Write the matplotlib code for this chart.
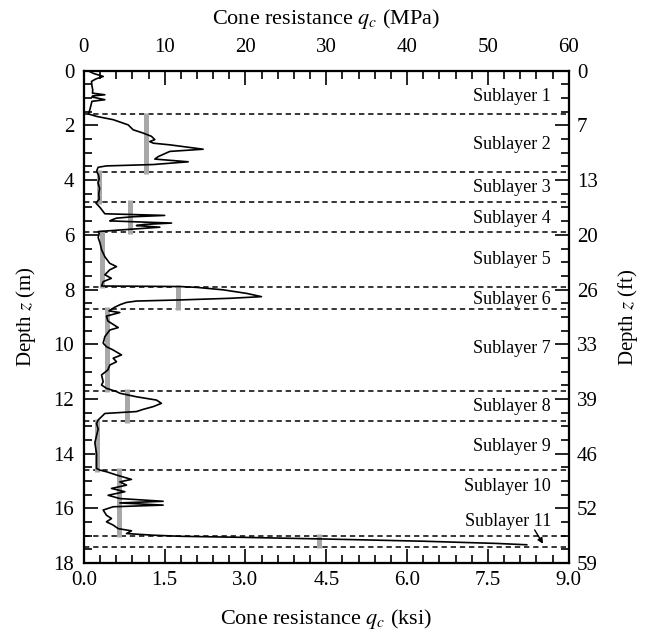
import numpy as np
import matplotlib
matplotlib.use("Agg")
import matplotlib.pyplot as plt

plt.rcParams['font.family'] = ['Liberation Serif', 'DejaVu Serif']
plt.rcParams['mathtext.fontset'] = 'stix'

# CPT profile: depth (m) and cone resistance (MPa)
depth_m = [0.00, 0.10, 0.21, 0.30, 0.39, 0.55, 0.70, 0.82, 0.88, 0.92, 0.96, 1.06, 1.12, 1.18, 1.43, 1.58,
           1.67, 1.79, 1.98, 2.16, 2.28, 2.40, 2.52, 2.59, 2.65, 2.71, 2.87, 2.95, 3.14, 3.23, 3.26, 3.33, 3.43, 3.48, 3.53, 3.68,
           3.80, 3.95, 4.10, 4.30, 4.50, 4.70, 4.84,
           5.00, 5.15, 5.23, 5.29, 5.34, 5.39, 5.45, 5.49, 5.57, 5.62, 5.66, 5.72, 5.79, 5.85, 5.88,
           5.95, 6.10, 6.30, 6.55, 6.80, 7.04, 7.16, 7.28, 7.46, 7.59, 7.71, 7.87,
           7.89, 7.92, 8.01, 8.14, 8.26, 8.32, 8.38, 8.42, 8.47, 8.55, 8.65,
           8.78, 8.84, 8.97, 9.15, 9.39, 9.48, 9.72, 9.96, 10.09, 10.21, 10.39, 10.51, 10.64, 10.76, 10.94, 11.12, 11.37, 11.49, 11.61, 11.73,
           11.79, 11.92, 12.04, 12.16, 12.28, 12.38, 12.46, 12.53, 12.65, 12.77,
           12.90, 13.10, 13.35, 13.60, 14.00, 14.30, 14.54, 14.60,
           14.66, 14.78, 14.94, 15.03, 15.15, 15.27, 15.39, 15.52, 15.64, 15.74, 15.80, 15.88, 15.94, 16.06, 16.25, 16.37, 16.49, 16.61, 16.74, 16.82, 16.92, 16.98,
           17.02, 17.06, 17.12, 17.20, 17.28, 17.33]
qc_mpa = [0.50, 1.20, 2.40, 1.50, 0.95, 1.00, 1.10, 1.07, 2.60, 1.10, 1.00, 2.60, 1.00, 0.95, 0.74, 0.55,
          1.57, 3.63, 5.48, 6.10, 7.34, 8.37, 8.78, 8.16, 8.60, 10.64, 14.76, 10.64, 9.20, 8.78, 10.00, 12.91, 8.58, 2.80, 1.77, 1.57,
          1.80, 1.90, 1.75, 1.95, 1.85, 1.90, 1.50,
          2.00, 2.39, 2.60, 10.00, 6.00, 4.04, 3.50, 3.21, 10.85, 7.50, 6.51, 9.40, 6.00, 3.00, 1.77,
          1.90, 1.77, 2.00, 2.20, 2.60, 3.20, 4.04, 3.20, 2.60, 3.40, 2.40, 2.20,
          11.88, 13.94, 17.24, 20.13, 21.98, 18.06, 11.88, 6.51, 5.28, 4.50, 3.80,
          3.11, 4.45, 2.80, 2.97, 4.25, 3.21, 2.60, 2.39, 2.80, 3.63, 4.66, 3.63, 4.04, 3.21, 2.97, 2.19, 2.39, 2.19, 2.80, 4.04,
          4.45, 6.51, 8.99, 9.60, 8.58, 7.34, 6.51, 2.60, 2.19, 1.77,
          1.57, 1.77, 1.57, 1.36, 1.57, 1.57, 1.57, 1.98,
          2.80, 4.04, 5.89, 4.45, 5.28, 3.42, 5.07, 3.00, 4.45, 9.81, 4.45, 9.81, 3.63, 2.39, 2.80, 3.42, 2.80, 3.63, 4.25, 5.89, 5.28, 8.58,
          12.0, 20.0, 30.0, 42.0, 51.0, 54.8]

# Sublayer boundaries (m) and mean cone resistance per sublayer (MPa)
layer_bounds = [0.0, 1.6, 3.7, 4.8, 5.9, 7.9, 8.7, 11.7, 12.8, 14.6, 17.0, 17.4]
layer_mean_qc = [np.nan, 7.7, 1.9, 5.7, 2.3, 11.7, 2.9, 5.4, 1.6, 4.3, 29.1]
layer_names = ["Sublayer 1", "Sublayer 2", "Sublayer 3", "Sublayer 4", "Sublayer 5", "Sublayer 6",
               "Sublayer 7", "Sublayer 8", "Sublayer 9", "Sublayer 10", "Sublayer 11"]
label_depths = [0.94, 2.71, 4.26, 5.39, 6.91, 8.35, 10.15, 12.28, 13.72, 15.21, 16.49]

mpa_ticks = [0, 10, 20, 30, 40, 50, 60]
ksi_ticks = [0.0, 1.5, 3.0, 4.5, 6.0, 7.5, 9.0]
depth_ticks = [0, 2, 4, 6, 8, 10, 12, 14, 16, 18]
ft_labels = ["0", "7", "13", "20", "26", "33", "39", "46", "52", "59"]

fig = plt.figure(figsize=(6.5, 6.37), dpi=100)
ax = fig.add_axes([0.129, 0.116, 0.746, 0.773])
axb = ax.twiny()   # ksi scale along the bottom
axr = ax.twinx()   # feet scale along the right

# mean resistance bars
ext = 0.06
for i, m in enumerate(layer_mean_qc):
    if np.isnan(m):
        continue
    ax.plot([m, m], [layer_bounds[i] - ext, layer_bounds[i + 1] + ext], color='#a8a8a8',
            lw=3.6, solid_capstyle='butt', zorder=2)

# sublayer boundaries
for b in layer_bounds[1:]:
    ax.axhline(b, color='black', lw=1.1, ls=(0, (3.5, 2.5)), zorder=1)

ax.plot(qc_mpa, depth_m, color='black', lw=1.2, zorder=3)

for name, d in zip(layer_names, label_depths):
    ax.text(57.8, d, name, ha='right', va='center', fontsize=13)

ax.annotate("", xy=(57.0, 17.38), xytext=(55.6, 16.7),
            arrowprops=dict(arrowstyle='-|>', color='black', lw=1.0, mutation_scale=8))

ax.set_xlim(0, 60)
ax.set_ylim(18, 0)

minor = dict(which='minor', direction='in', length=5.5, width=1.2)

def major(pad):
    return dict(which='major', direction='in', length=10, width=1.2, labelsize=15, pad=pad)

# top axis: MPa
ax.xaxis.tick_top()
ax.xaxis.set_label_position('top')
ax.set_xticks(mpa_ticks)
ax.set_xticks(np.arange(0, 61, 2), minor=True)
ax.set_xlabel("Cone resistance $q_c$ (MPa)", fontsize=16, labelpad=10)
ax.xaxis.set_tick_params(**major(10))
ax.xaxis.set_tick_params(**minor)

# left axis: depth m
ax.yaxis.tick_left()
ax.set_yticks(depth_ticks)
ax.set_yticks(np.arange(0, 18.01, 0.5), minor=True)
ax.set_ylabel("Depth $z$ (m)", fontsize=15, labelpad=11)
ax.yaxis.set_tick_params(**major(7))
ax.yaxis.set_tick_params(**minor)

# bottom axis: ksi
axb.xaxis.tick_bottom()
axb.xaxis.set_label_position('bottom')
axb.set_xlim(0, 9)
axb.set_xticks(ksi_ticks)
axb.set_xticklabels([f"{v:.1f}" for v in ksi_ticks])
axb.set_xticks(np.arange(0, 9.01, 0.3), minor=True)
axb.set_xlabel("Cone resistance $q_c$ (ksi)", fontsize=16, labelpad=12)
axb.xaxis.set_tick_params(**major(6))
axb.xaxis.set_tick_params(**minor)

# right axis: depth ft
axr.yaxis.tick_right()
axr.set_ylim(18, 0)
axr.set_yticks(depth_ticks)
axr.set_yticklabels(ft_labels)
axr.set_yticks(np.arange(0, 18.01, 0.5), minor=True)
axr.set_ylabel("Depth $z$ (ft)", fontsize=15, labelpad=13)
axr.yaxis.set_tick_params(**major(6))
axr.yaxis.set_tick_params(**minor)

for a in (ax, axb, axr):
    for s in a.spines.values():
        s.set_linewidth(1.5)

fig.savefig("out.png", dpi=100)
